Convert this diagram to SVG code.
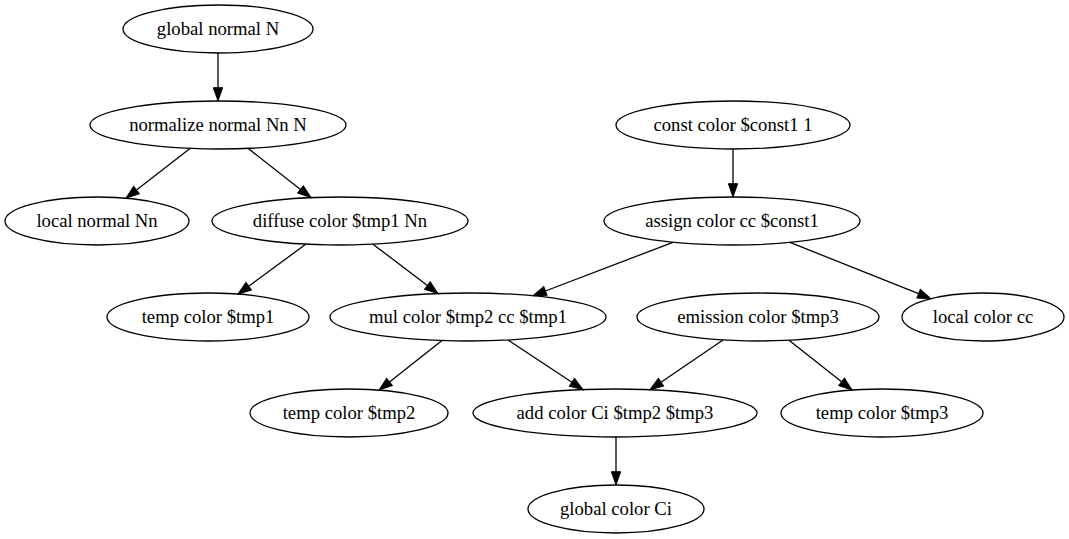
<svg xmlns="http://www.w3.org/2000/svg" width="1069" height="539" viewBox="0 0 1069 539">
<style>
.n ellipse{fill:none;stroke:#000;stroke-width:1.3}
.n text{font-family:"Liberation Serif","Times New Roman",serif;font-size:18.67px;text-anchor:middle;fill:#000}
#edges line{stroke:#000;stroke-width:1.3;marker-end:url(#arr)}
</style>
<defs>
<marker id="arr" markerUnits="userSpaceOnUse" markerWidth="14" markerHeight="10" refX="0" refY="4.65" orient="auto" overflow="visible">
<polygon points="0,0 13.3,4.65 0,9.3" fill="#000" stroke="#000" stroke-width="1"/>
</marker>
</defs>
<rect width="1069" height="539" fill="#fff"/>
<g id="edges">
<line x1="218" y1="53" x2="218" y2="87.7"/>
<line x1="190" y1="148.4" x2="136.5" y2="190"/>
<line x1="248" y1="148.3" x2="300.5" y2="189.4"/>
<line x1="733" y1="149" x2="733" y2="183.7"/>
<line x1="306" y1="244.1" x2="248.7" y2="286.2"/>
<line x1="373" y1="244.2" x2="427.4" y2="285.5"/>
<line x1="673" y1="242.3" x2="545.4" y2="291"/>
<line x1="790" y1="242.4" x2="918.6" y2="293.7"/>
<line x1="442" y1="340.6" x2="389.5" y2="381.9"/>
<line x1="508" y1="340" x2="571.9" y2="382.3"/>
<line x1="723" y1="340" x2="661" y2="382.2"/>
<line x1="789" y1="340.2" x2="841.6" y2="381.8"/>
<line x1="616" y1="437" x2="616" y2="471.7"/>
</g>
<g id="n1" class="n"><ellipse cx="218" cy="29" rx="95" ry="24"/><text x="218" y="35">global normal N</text></g>
<g id="n2" class="n"><ellipse cx="218" cy="125" rx="128" ry="24"/><text x="218" y="131">normalize normal Nn N</text></g>
<g id="n3" class="n"><ellipse cx="97" cy="221" rx="92" ry="24"/><text x="97" y="227">local normal Nn</text></g>
<g id="n4" class="n"><ellipse cx="340" cy="221" rx="128" ry="24"/><text x="340" y="227">diffuse color $tmp1 Nn</text></g>
<g id="n5" class="n"><ellipse cx="733" cy="125" rx="117" ry="24"/><text x="733" y="131">const color $const1 1</text></g>
<g id="n6" class="n"><ellipse cx="732" cy="221" rx="128" ry="24"/><text x="732" y="227">assign color cc $const1</text></g>
<g id="n7" class="n"><ellipse cx="208" cy="317" rx="101" ry="24"/><text x="208" y="323">temp color $tmp1</text></g>
<g id="n8" class="n"><ellipse cx="468" cy="317" rx="138" ry="24"/><text x="468" y="323">mul color $tmp2 cc $tmp1</text></g>
<g id="n9" class="n"><ellipse cx="758" cy="317" rx="121" ry="24"/><text x="758" y="323">emission color $tmp3</text></g>
<g id="n10" class="n"><ellipse cx="983" cy="317" rx="81" ry="24"/><text x="983" y="323">local color cc</text></g>
<g id="n11" class="n"><ellipse cx="349" cy="413" rx="99" ry="24"/><text x="349" y="419">temp color $tmp2</text></g>
<g id="n12" class="n"><ellipse cx="615" cy="413" rx="142" ry="24"/><text x="615" y="419">add color Ci $tmp2 $tmp3</text></g>
<g id="n13" class="n"><ellipse cx="882" cy="413" rx="101" ry="24"/><text x="882" y="419">temp color $tmp3</text></g>
<g id="n14" class="n"><ellipse cx="616" cy="509" rx="88" ry="24"/><text x="616" y="515">global color Ci</text></g>
</svg>
